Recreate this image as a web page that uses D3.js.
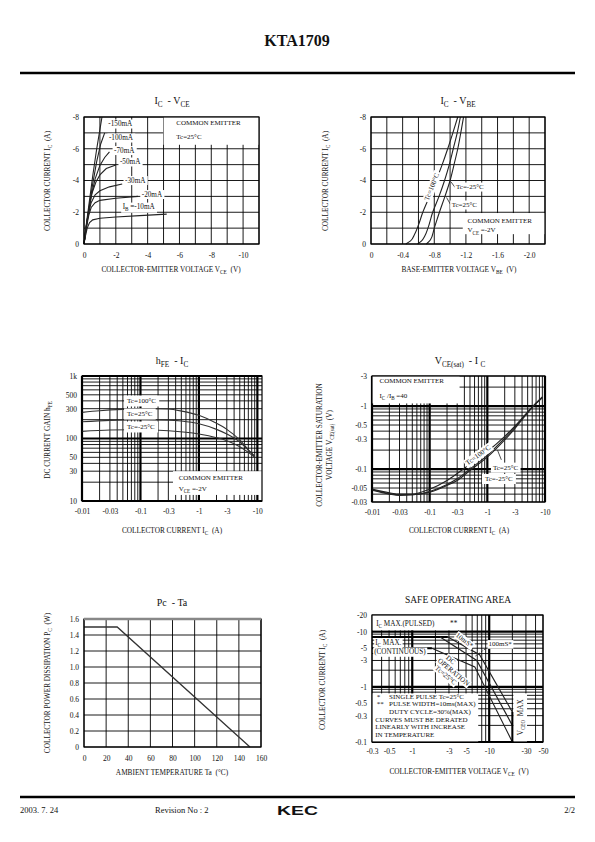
<!DOCTYPE html>
<html><head><meta charset="utf-8">
<script src="https://cdn.jsdelivr.net/npm/d3@7"></script>
<style>
body{margin:0;background:#fff}
svg{display:block}
text{font-family:"Liberation Serif","Times New Roman",serif;fill:#111;white-space:pre}
text.logo{font-family:"Liberation Sans","DejaVu Sans",Arial,sans-serif;font-weight:900}
</style>
</head><body>
<svg id="page" width="595" height="842"></svg>
<script>
// ================= DATA =================
// Chart 1: IC - VCE
const vceTicks = [0, -2, -4, -6, -8, -10];
const icTicks = [0, -2, -4, -6, -8];
const ibLabels = ["-10mA", "-20mA", "-30mA", "-50mA", "-70mA", "-100mA", "-150mA"];
const ib10  = [[0,0],[-0.1,-0.55],[-0.2,-1.0],[-0.35,-1.35],[-0.55,-1.52],[-1,-1.62],[-2,-1.7],[-3.5,-1.79],[-5.2,-1.88]];
const ib20  = [[0,0],[-0.1,-0.7],[-0.2,-1.3],[-0.3,-1.8],[-0.45,-2.3],[-0.7,-2.6],[-1,-2.75],[-2,-2.88],[-3.4,-3.0]];
const ib30  = [[0,0],[-0.1,-0.75],[-0.2,-1.4],[-0.3,-2.0],[-0.45,-2.6],[-0.7,-3.1],[-1,-3.35],[-1.6,-3.6],[-2.4,-3.78]];
const ib50  = [[0,0],[-0.1,-0.8],[-0.2,-1.5],[-0.35,-2.4],[-0.5,-3.2],[-0.75,-3.9],[-1,-4.35],[-1.4,-4.75],[-2.0,-4.97]];
const ib70  = [[0,0],[-0.1,-0.8],[-0.25,-1.8],[-0.45,-3.0],[-0.7,-4.1],[-1,-4.95],[-1.3,-5.45],[-1.6,-5.8]];
const ib100 = [[0,0],[-0.1,-0.85],[-0.3,-2.2],[-0.55,-3.8],[-0.8,-5.2],[-1.05,-6.3],[-1.3,-7.0]];
const ib150 = [[0,0],[-0.1,-0.9],[-0.3,-2.4],[-0.55,-4.3],[-0.8,-6.0],[-1.0,-7.2],[-1.13,-8.0]];

// Chart 2: IC - VBE
const vbeTicks = [0, -0.4, -0.8, -1.2, -1.6, -2.0];
const vbeTc100 = [[-0.44,0],[-0.5,-0.2],[-0.55,-0.6],[-0.6,-1.2],[-0.655,-2],[-0.74,-3],[-0.823,-4],[-0.9,-5],[-0.97,-6],[-1.035,-7],[-1.097,-8]];
const vbeTc25  = [[-0.59,0],[-0.64,-0.2],[-0.68,-0.5],[-0.72,-1],[-0.78,-2],[-0.86,-3],[-0.93,-4],[-0.99,-5],[-1.04,-6],[-1.09,-7],[-1.13,-8]];
const vbeTcM25 = [[-0.70,0],[-0.75,-0.25],[-0.8,-1],[-0.865,-2],[-0.935,-3],[-1.0,-4],[-1.05,-5],[-1.097,-6],[-1.135,-7],[-1.17,-8]];

// Chart 3: hFE - IC  (|IC| in A, hFE)
const hfeXTicks = [0.01, 0.03, 0.1, 0.3, 1, 3, 10];
const hfeYTicks = [10, 30, 50, 100, 300, 500, 1000];
const hfeTc100 = [[0.01,262],[0.02,278],[0.05,292],[0.1,298],[0.2,300],[0.3,296],[0.5,275],[1,235],[2,175],[3,140],[5,95],[7,66],[9,52]];
const hfeTc25  = [[0.01,185],[0.03,195],[0.1,200],[0.3,197],[0.5,190],[1,172],[2,140],[3,118],[5,88],[7,65],[9,52]];
const hfeTcM25 = [[0.01,130],[0.03,137],[0.1,138],[0.3,133],[1,118],[2,103],[3,92],[5,74],[7,60],[9,50]];

// Chart 4: VCE(sat) - IC  (|IC| in A, |VCE(sat)| in V)
const satXTicks = [0.01, 0.03, 0.1, 0.3, 1, 3, 10];
const satYTicks = [0.03, 0.05, 0.1, 0.3, 0.5, 1, 3];
const satTc100 = [[0.01,0.048],[0.02,0.042],[0.03,0.040],[0.05,0.040],[0.1,0.048],[0.2,0.066],[0.3,0.085],[0.5,0.12],[1,0.19],[2,0.33],[3,0.48],[5,0.8],[7,1.1],[9,1.35]];
const satTc25  = [[0.01,0.047],[0.02,0.041],[0.03,0.039],[0.05,0.039],[0.1,0.044],[0.2,0.057],[0.3,0.07],[0.5,0.1],[1,0.165],[2,0.31],[3,0.46],[5,0.8],[7,1.12],[9,1.4]];
const satTcM25 = [[0.01,0.046],[0.02,0.040],[0.03,0.038],[0.05,0.039],[0.1,0.043],[0.2,0.055],[0.3,0.066],[0.5,0.095],[1,0.155],[2,0.29],[3,0.44],[5,0.78],[7,1.1],[9,1.38]];

// Chart 5: Pc - Ta
const taTicks = [0, 20, 40, 60, 80, 100, 120, 140, 160];
const pcTicks = [0, 0.2, 0.4, 0.6, 0.8, 1.0, 1.2, 1.4, 1.6];
const pcDerating = [[0,1.5],[30,1.5],[150,0]];

// Chart 6: Safe operating area (|VCE| in V, |IC| in A)
const soaXTicks = [0.3, 0.5, 1, 3, 5, 10, 30, 50];
const soaYTicks = [0.1, 0.3, 0.5, 1, 3, 5, 10, 20];
const icPulsedMax = 8;
const icContMax = 5;
const vceoMax = 20;
const soa10ms  = [[2.9,8],[7.5,3.8],[20,0.35]];
const soa100ms = [[2.3,8],[6.9,3.0],[20,0.2]];
const soaDC    = [[1.8,5],[6.5,2.3],[20,0.1]];

// ================= DRAWING =================
const page = d3.select("#page");
const INK = "#111";

function rich(sel, parts, size) {
  if (typeof parts === "string") parts = [[parts, 0]];
  let prev = 0;
  parts.forEach(([t, sub]) => {
    const ts = sel.append("tspan").text(t);
    if (sub) ts.attr("font-size", size * 0.72);
    if (sub && !prev) ts.attr("dy", size * 0.3);
    if (!sub && prev) ts.attr("dy", -size * 0.3);
    prev = sub;
  });
}
function note(parent, x, y, parts, o = {}) {
  const size = o.size || 7.2;
  const g = parent.append("g").attr("transform", `translate(${x},${y})` + (o.rotate ? ` rotate(${o.rotate})` : ""));
  const t = g.append("text").attr("font-size", size).attr("text-anchor", o.anchor || "start");
  if (o.dy) t.attr("dy", o.dy);
  rich(t, parts, size);
  if (o.bg) {
    const b = t.node().getBBox(); const px = o.padX ?? 1.5, py = o.padY ?? 0.5;
    g.insert("rect", "text").attr("x", b.x - px).attr("y", b.y - py)
      .attr("width", b.width + 2 * px).attr("height", b.height + 2 * py).attr("fill", "#fff");
  }
  return g;
}
function whiteBox(g, x0, y0, x1, y1) {
  g.append("rect").attr("x", Math.min(x0, x1)).attr("y", Math.min(y0, y1))
    .attr("width", Math.abs(x1 - x0)).attr("height", Math.abs(y1 - y0)).attr("fill", "#fff");
}
function grid(g, s, xs, ys, thick = () => false) {
  const [x0, x1] = s.x.range(), [y0, y1] = s.y.range();
  g.append("g").selectAll("line").data(xs).join("line")
    .attr("x1", d => s.x(d)).attr("x2", d => s.x(d)).attr("y1", y0).attr("y2", y1)
    .attr("stroke", "#000").attr("stroke-width", d => thick(d) ? 2.2 : 0.9);
  g.append("g").selectAll("line").data(ys).join("line")
    .attr("y1", d => s.y(d)).attr("y2", d => s.y(d)).attr("x1", x0).attr("x2", x1)
    .attr("stroke", "#000").attr("stroke-width", d => thick(d) ? 2.2 : 0.9);
}
function frame(g, s, color = "#000", w = 1.2) {
  const [x0, x1] = s.x.range(), [y0, y1] = s.y.range();
  g.append("rect").attr("x", x0).attr("y", Math.min(y0, y1)).attr("width", x1 - x0)
    .attr("height", Math.abs(y0 - y1)).attr("fill", "none").attr("stroke", color).attr("stroke-width", w);
}
function axes(g, s, xt, yt, fx, fy, padX, padY) {
  const ax = g.append("g").attr("transform", `translate(0,${s.y.range()[0]})`)
    .call(d3.axisBottom(s.x).tickValues(xt).tickSize(0).tickPadding(padX).tickFormat(fx));
  const ay = g.append("g").attr("transform", `translate(${s.x.range()[0]},0)`)
    .call(d3.axisLeft(s.y).tickValues(yt).tickSize(0).tickPadding(padY).tickFormat(fy));
  [ax, ay].forEach(a => {
    a.attr("font-size", 7.5);
    a.select(".domain").remove();
    a.selectAll("text").attr("fill", INK);
  });
}
function logVals(d0, d1) {
  const v = [];
  for (let e = Math.floor(Math.log10(d0)) - 1; e <= Math.ceil(Math.log10(d1)); e++)
    for (let m = 1; m < 10; m++) { const val = +(m * Math.pow(10, e)).toPrecision(3); if (val >= d0 * 0.999 && val <= d1 * 1.001) v.push(val); }
  return v;
}
const isDecade = d => Math.abs(Math.log10(d) - Math.round(Math.log10(d))) < 1e-6;
function curve(g, s, pts, w = 1.1, c = "#222", cf = d3.curveMonotoneX) {
  g.append("path").datum(pts).attr("fill", "none").attr("stroke", c).attr("stroke-width", w)
    .attr("d", d3.line().x(d => s.x(d[0])).y(d => s.y(d[1])).curve(cf));
}
function title(g, cx, y, parts, size = 10) { note(g, cx, y, parts, {size, anchor: "middle"}); }
function xTitle(g, cx, y, parts) { note(g, cx, y, parts, {size: 7.3, anchor: "middle"}); }
function yTitle(g, x, cy, parts) { note(g, x, cy, parts, {size: 7.3, anchor: "middle", rotate: -90}); }
const plain = d => String(d);
const minus = d => "-" + d;

// ---------- Header / footer ----------
page.append("text").attr("x", 297).attr("y", 46).attr("text-anchor", "middle")
  .attr("font-size", 16).attr("font-weight", "bold").text("KTA1709");
page.append("line").attr("x1", 20).attr("x2", 575).attr("y1", 73).attr("y2", 73).attr("stroke", "#000").attr("stroke-width", 2.5);
page.append("line").attr("x1", 20).attr("x2", 575).attr("y1", 797).attr("y2", 797).attr("stroke", "#000").attr("stroke-width", 2.5);
page.append("text").attr("x", 20).attr("y", 813).attr("font-size", 8.5).text("2003. 7. 24");
page.append("text").attr("x", 155).attr("y", 813).attr("font-size", 8.5).text("Revision No : 2");
page.append("text").attr("class", "logo").attr("x", 277).attr("y", 815).attr("font-size", 13.5)
  .attr("textLength", 41).attr("lengthAdjust", "spacingAndGlyphs").text("KEC");
page.append("text").attr("x", 575).attr("y", 813).attr("font-size", 8.5).attr("text-anchor", "end").text("2/2");

// ---------- Chart 1: IC - VCE ----------
{
  const g = page.append("g");
  const s = {x: d3.scaleLinear().domain([0, -11]).range([84, 259]), y: d3.scaleLinear().domain([0, -8]).range([244, 117])};
  grid(g, s, d3.range(0, -11.5, -1), d3.range(0, -8.5, -1));
  whiteBox(g, s.x(-5), s.y(-8), s.x(-11), s.y(-6.25));
  [ib10, ib20, ib30, ib50, ib70, ib100, ib150].forEach(c => curve(g, s, c, 1.1, "#222", d3.curveLinear));
  const lpos = [[-2.43,-2.2],[-3.63,-2.99],[-2.58,-3.87],[-2.26,-5.04],[-1.89,-5.76],[-1.57,-6.55],[-1.53,-7.43]];
  ibLabels.forEach((l, i) => {
    const parts = i === 0 ? [["I",0],["B",1],[" =" + l,0]] : l;
    note(g, s.x(lpos[i][0]), s.y(lpos[i][1]), parts, {size: 7.2, bg: true});
  });
  note(g, s.x(-5.8), s.y(-7.47), "COMMON EMITTER", {size: 7});
  note(g, s.x(-5.8), s.y(-6.6), "Tc=25°C", {size: 7});
  frame(g, s);
  axes(g, s, vceTicks, icTicks, plain, plain, 9, 5);
  title(g, 172, 104, [["I",0],["C",1],["  - V",0],["CE",1]]);
  xTitle(g, 171, 272, [["COLLECTOR-EMITTER VOLTAGE V",0],["CE",1],["  (V)",0]]);
  yTitle(g, 50, 181, [["COLLECTOR CURRENT I",0],["C",1],["  (A)",0]]);
}

// ---------- Chart 2: IC - VBE ----------
{
  const g = page.append("g");
  const s = {x: d3.scaleLinear().domain([0, -2.2]).range([371, 545]), y: d3.scaleLinear().domain([0, -8]).range([244, 117])};
  grid(g, s, d3.range(0, -2.25, -0.2), d3.range(0, -8.5, -1));
  whiteBox(g, s.x(-1.16), s.y(-1.95), s.x(-2.2), s.y(-0.62));
  [vbeTc100, vbeTc25, vbeTcM25].forEach(c => curve(g, s, c, 1.1, "#222", d3.curveMonotoneY));
  note(g, s.x(-0.767), s.y(-3.61), "Tc=100°C", {size: 7, anchor: "middle", rotate: -68, dy: "0.35em", bg: true});
  g.append("line").attr("x1", s.x(-1.01)).attr("y1", s.y(-3.92)).attr("x2", s.x(-1.065)).attr("y2", s.y(-3.55)).attr("stroke", "#222").attr("stroke-width", 0.8);
  g.append("line").attr("x1", s.x(-0.955)).attr("y1", s.y(-2.93)).attr("x2", s.x(-1.01)).attr("y2", s.y(-2.45)).attr("stroke", "#222").attr("stroke-width", 0.8);
  note(g, s.x(-1.075), s.y(-3.46), "Tc=-25°C", {size: 7, bg: true});
  note(g, s.x(-1.02), s.y(-2.33), "Tc=25°C", {size: 7, bg: true});
  note(g, s.x(-1.22), s.y(-1.35), "COMMON EMITTER", {size: 7});
  note(g, s.x(-1.22), s.y(-0.73), [["V",0],["CE",1],[" =-2V",0]], {size: 7});
  frame(g, s);
  axes(g, s, vbeTicks, icTicks, d => d === 0 ? "0" : d.toFixed(1), plain, 9, 5);
  title(g, 458, 104, [["I",0],["C",1],["  - V",0],["BE",1]]);
  xTitle(g, 459, 272, [["BASE-EMITTER VOLTAGE V",0],["BE",1],["  (V)",0]]);
  yTitle(g, 328, 181, [["COLLECTOR CURRENT I",0],["C",1],["  (A)",0]]);
}

// ---------- Chart 3: hFE - IC ----------
{
  const g = page.append("g");
  const s = {x: d3.scaleLog().domain([0.01, 12]).range([82, 262]), y: d3.scaleLog().domain([10, 1000]).range([501, 376])};
  grid(g, s, logVals(0.01, 10), logVals(10, 1000), isDecade);
  whiteBox(g, s.x(0.36), s.y(30), s.x(12), s.y(12.5));
  [hfeTc100, hfeTc25, hfeTcM25].forEach(c => curve(g, s, c, 1.1, "#333"));
  note(g, s.x(0.059), s.y(370), "Tc=100°C", {size: 7, bg: true, padX: 3, padY: 1.5});
  note(g, s.x(0.059), s.y(229), "Tc=25°C", {size: 7, bg: true, padX: 3, padY: 1.5});
  note(g, s.x(0.059), s.y(142), "Tc=-25°C", {size: 7, bg: true, padX: 3, padY: 1.5});
  note(g, s.x(0.45), s.y(21.5), "COMMON EMITTER", {size: 7});
  note(g, s.x(0.45), s.y(14.7), [["V",0],["CE",1],[" =-2V",0]], {size: 7});
  frame(g, s);
  axes(g, s, hfeXTicks, hfeYTicks, minus, d => d === 1000 ? "1k" : d, 8, 5);
  title(g, 172, 364, [["h",0],["FE",1],["  - I",0],["C",1]]);
  xTitle(g, 172, 533, [["COLLECTOR CURRENT I",0],["C",1],["  (A)",0]]);
  yTitle(g, 50, 440, [["DC CURRENT GAIN h",0],["FE",1]]);
}

// ---------- Chart 4: VCE(sat) - IC ----------
{
  const g = page.append("g");
  const s = {x: d3.scaleLog().domain([0.01, 10]).range([372, 545]), y: d3.scaleLog().domain([0.03, 3]).range([502, 376])};
  grid(g, s, logVals(0.01, 10), logVals(0.03, 3), isDecade);
  whiteBox(g, s.x(0.01), s.y(3), s.x(0.33), s.y(1.1));
  [satTc100, satTc25, satTcM25].forEach(c => curve(g, s, c, 1.1, "#222"));
  note(g, s.x(0.69), s.y(0.167), "Tc=100°C", {size: 7, anchor: "middle", rotate: -36, dy: "0.35em", bg: true});
  g.append("line").attr("x1", s.x(1.5)).attr("y1", s.y(0.2)).attr("x2", s.x(1.75)).attr("y2", s.y(0.14)).attr("stroke", "#222").attr("stroke-width", 0.8);
  note(g, s.x(1.25), s.y(0.098), "Tc=25°C", {size: 7, bg: true, padX: 2, padY: 1});
  note(g, s.x(0.91), s.y(0.0646), "Tc=-25°C", {size: 7, bg: true, padX: 3, padY: 1});
  note(g, s.x(0.0135), s.y(2.35), "COMMON EMITTER", {size: 7});
  note(g, s.x(0.0135), s.y(1.35), [["I",0],["C",1],[" /I",0],["B",1],[" =40",0]], {size: 7});
  frame(g, s);
  axes(g, s, satXTicks, satYTicks, minus, minus, 8, 5);
  title(g, 460, 364, [["V",0],["CE(sat)",1],["  - I ",0],["C",1]]);
  xTitle(g, 459, 533, [["COLLECTOR CURRENT I",0],["C",1],["  (A)",0]]);
  yTitle(g, 322, 445, "COLLECTOR-EMITTER SATURATION");
  yTitle(g, 332, 445, [["VOLTAGE V",0],["CE(sat)",1],["  (V)",0]]);
}

// ---------- Chart 5: Pc - Ta ----------
{
  const g = page.append("g");
  const s = {x: d3.scaleLinear().domain([0, 160]).range([84, 261]), y: d3.scaleLinear().domain([0, 1.6]).range([747, 619])};
  grid(g, s, taTicks, pcTicks);
  curve(g, s, pcDerating, 1.3, "#333", d3.curveLinear);
  frame(g, s);
  g.append("line").attr("x1", 84).attr("x2", 261).attr("y1", s.y(1.6)).attr("y2", s.y(1.6)).attr("stroke", "#888").attr("stroke-width", 2.5);
  axes(g, s, taTicks, pcTicks, plain, d => d === 0 ? "0" : d.toFixed(1), 9, 5);
  title(g, 172, 606, "Pc  - Ta");
  xTitle(g, 172, 775, "AMBIENT TEMPERATURE Ta  (°C)");
  yTitle(g, 50, 683, [["COLLECTOR POWER DISSIPATION P",0],["C",1],["  (W)",0]]);
}

// ---------- Chart 6: Safe operating area ----------
{
  const g = page.append("g");
  const s = {x: d3.scaleLog().domain([0.3, 50]).range([372, 543]), y: d3.scaleLog().domain([0.1, 20]).range([742, 615])};
  grid(g, s, logVals(0.3, 50), logVals(0.1, 20), isDecade);
  whiteBox(g, s.x(0.3), s.y(20), s.x(4.2), s.y(10.6));
  whiteBox(g, s.x(0.3), s.y(0.76), s.x(7.2), s.y(0.1));
  whiteBox(g, s.x(20.6), s.y(0.76), s.x(31), s.y(0.1));
  g.append("line").attr("x1", s.x(0.3)).attr("x2", s.x(soa10ms[0][0])).attr("y1", s.y(icPulsedMax)).attr("y2", s.y(icPulsedMax)).attr("stroke", "#000").attr("stroke-width", 2);
  g.append("line").attr("x1", s.x(0.3)).attr("x2", s.x(soaDC[0][0])).attr("y1", s.y(icContMax)).attr("y2", s.y(icContMax)).attr("stroke", "#000").attr("stroke-width", 2);
  [soa10ms, soa100ms, soaDC].forEach(c => curve(g, s, c, 1.2, "#222", d3.curveLinear));
  g.append("line").attr("x1", s.x(vceoMax)).attr("x2", s.x(vceoMax)).attr("y1", s.y(0.1)).attr("y2", s.y(soa10ms[2][1])).attr("stroke", "#000").attr("stroke-width", 2);
  note(g, s.x(0.34), s.y(12.6), [["I",0],["C",1],[" MAX.(PULSED)",0]], {size: 7.2});
  note(g, s.x(3.1), s.y(12.6), "**", {size: 7.2});
  note(g, s.x(0.33), s.y(5.8), [["I",0],["C",1],[" MAX.",0]], {size: 7.2, bg: true, padX: 1, padY: 0.6});
  note(g, s.x(0.32), s.y(3.9), "(CONTINUOUS)", {size: 7.2, bg: true, padX: 1, padY: 0.6});
  note(g, s.x(4.8), s.y(7.0), "10mS*", {size: 7, anchor: "middle", rotate: 38, dy: "0.35em", bg: true, padX: 0.5, padY: 0});
  g.append("line").attr("x1", s.x(6.6)).attr("y1", s.y(3.6)).attr("x2", s.x(9.5)).attr("y2", s.y(5.2))
    .attr("stroke", "#222").attr("stroke-width", 0.8).attr("stroke-dasharray", "2,1.5");
  note(g, s.x(9.8), s.y(5.4), "100mS*", {size: 7, bg: true, padX: 1, padY: 0.3});
  {
    const dc = g.append("g").attr("transform", `translate(${s.x(3.3)},${s.y(1.72)}) rotate(40)`);
    note(dc, -10, -7.5, "DC", {size: 7, anchor: "middle", bg: true, padX: 1, padY: 0});
    note(dc, 0, 0, "OPERATION", {size: 7, anchor: "middle", bg: true, padX: 1, padY: 0});
    note(dc, -4, 7.5, "Tc=25°C", {size: 7, anchor: "middle", bg: true, padX: 1, padY: 0});
  }
  note(g, s.x(25.5), s.y(0.28), [["V",0],["CEO",1],["  MAX",0]], {size: 7.2, anchor: "middle", rotate: -90, dy: "0.35em"});
  const lines = [["*", "SINGLE PULSE Tc=25°C"], ["**", "PULSE WIDTH=10ms(MAX)"], ["", "DUTY CYCLE=30%(MAX)"]];
  lines.forEach((l, i) => {
    note(g, s.x(0.345), s.y(0.6) + i * 7.3, l[0], {size: 7});
    note(g, s.x(0.5), s.y(0.6) + i * 7.3, l[1], {size: 7});
  });
  ["CURVES MUST BE DERATED", "LINEARLY WITH INCREASE", "IN TEMPERATURE"].forEach((t, i) => {
    note(g, s.x(0.33), s.y(0.6) + (i + 3) * 7.6, t, {size: 7});
  });
  frame(g, s);
  axes(g, s, soaXTicks, soaYTicks, minus, minus, 7, 5);
  title(g, 458, 603, "SAFE OPERATING AREA", 9.5);
  xTitle(g, 459, 774, [["COLLECTOR-EMITTER VOLTAGE V",0],["CE",1],["  (V)",0]]);
  yTitle(g, 325, 680, [["COLLECTOR CURRENT I",0],["C",1],["  (A)",0]]);
}
</script>
</body></html>
